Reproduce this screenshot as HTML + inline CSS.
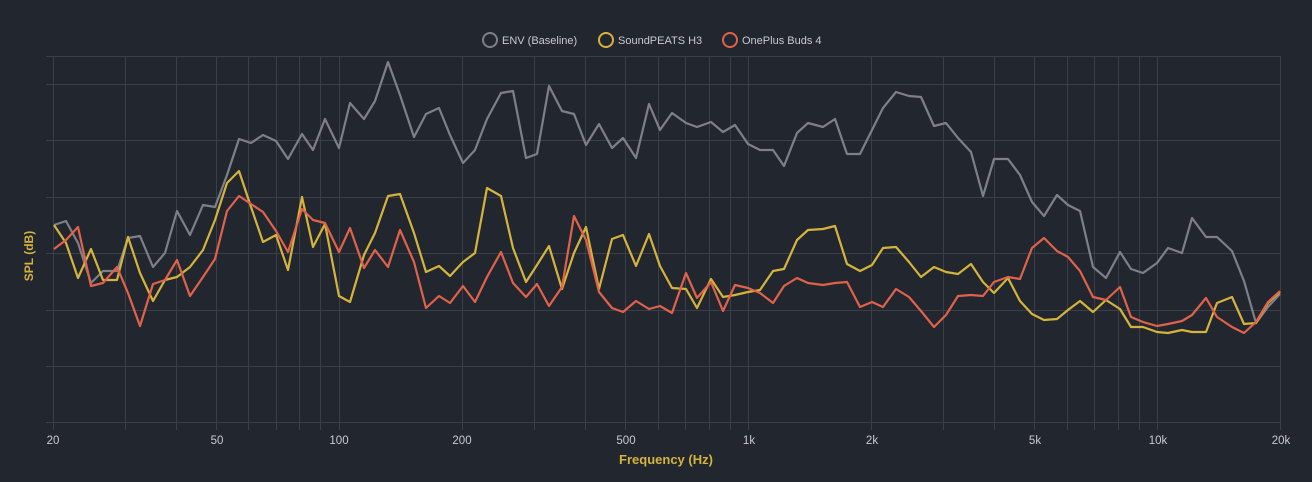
<!DOCTYPE html>
<html><head><meta charset="utf-8"><style>
html,body{margin:0;padding:0;background:#22262f;}
svg{display:block;font-family:"Liberation Sans",sans-serif;}
</style></head><body>
<svg width="1312" height="482" xmlns="http://www.w3.org/2000/svg">
<rect width="1312" height="482" fill="#22262f"/>
<g stroke="#3b3f49" stroke-width="1">
<line x1="46" y1="56.5" x2="1281" y2="56.5"/>
<line x1="46" y1="84.5" x2="1281" y2="84.5"/>
<line x1="46" y1="140.5" x2="1281" y2="140.5"/>
<line x1="46" y1="197.5" x2="1281" y2="197.5"/>
<line x1="46" y1="253.5" x2="1281" y2="253.5"/>
<line x1="46" y1="310.5" x2="1281" y2="310.5"/>
<line x1="46" y1="366.5" x2="1281" y2="366.5"/>
<line x1="46" y1="422.5" x2="1281" y2="422.5"/>
<line x1="53.5" y1="56" x2="53.5" y2="430"/><line x1="125.5" y1="56" x2="125.5" y2="430"/><line x1="176.5" y1="56" x2="176.5" y2="430"/><line x1="216.5" y1="56" x2="216.5" y2="430"/><line x1="248.5" y1="56" x2="248.5" y2="430"/><line x1="276.5" y1="56" x2="276.5" y2="430"/><line x1="299.5" y1="56" x2="299.5" y2="430"/><line x1="320.5" y1="56" x2="320.5" y2="430"/>
<line x1="339.5" y1="56" x2="339.5" y2="430"/><line x1="462.5" y1="56" x2="462.5" y2="430"/><line x1="534.5" y1="56" x2="534.5" y2="430"/><line x1="585.5" y1="56" x2="585.5" y2="430"/><line x1="625.5" y1="56" x2="625.5" y2="430"/><line x1="658.5" y1="56" x2="658.5" y2="430"/><line x1="685.5" y1="56" x2="685.5" y2="430"/><line x1="709.5" y1="56" x2="709.5" y2="430"/><line x1="730.5" y1="56" x2="730.5" y2="430"/>
<line x1="748.5" y1="56" x2="748.5" y2="430"/><line x1="871.5" y1="56" x2="871.5" y2="430"/><line x1="943.5" y1="56" x2="943.5" y2="430"/><line x1="994.5" y1="56" x2="994.5" y2="430"/><line x1="1034.5" y1="56" x2="1034.5" y2="430"/><line x1="1067.5" y1="56" x2="1067.5" y2="430"/><line x1="1094.5" y1="56" x2="1094.5" y2="430"/><line x1="1118.5" y1="56" x2="1118.5" y2="430"/><line x1="1139.5" y1="56" x2="1139.5" y2="430"/>
<line x1="1157.5" y1="56" x2="1157.5" y2="430"/><line x1="1280.5" y1="56" x2="1280.5" y2="430"/>
</g>
<g fill="#c8cad0" font-size="11.5" text-anchor="middle">
<text x="53" y="444">20</text><text x="217" y="444">50</text><text x="339" y="444">100</text>
<text x="462" y="444">200</text><text x="626" y="444">500</text><text x="749" y="444">1k</text>
<text x="872" y="444">2k</text><text x="1035" y="444">5k</text><text x="1158" y="444">10k</text>
<text x="1281" y="444">20k</text>
</g>
<text x="666" y="464" fill="#d4b43c" font-size="13" font-weight="bold" text-anchor="middle">Frequency (Hz)</text>
<text transform="translate(33,256) rotate(-90)" fill="#d4b43c" font-size="12" font-weight="bold" text-anchor="middle">SPL (dB)</text>
<g font-size="11" fill="#c8cad0">
<circle cx="490" cy="40" r="7" fill="none" stroke="#7d8089" stroke-width="2"/><text x="502" y="44">ENV (Baseline)</text>
<circle cx="606" cy="40" r="7" fill="none" stroke="#d4b43c" stroke-width="2"/><text x="618" y="44">SoundPEATS H3</text>
<circle cx="730" cy="40" r="7" fill="none" stroke="#e0624a" stroke-width="2"/><text x="742" y="44">OnePlus Buds 4</text>
</g>
<g fill="none" stroke-width="2.2" stroke-linejoin="round">
<polyline stroke="#7d8089" points="54,225 66,221 78,243 91,283 103,271 117,271 128,238 140,236 153,267 165,253 177,211 190,235 203,205 215,207 227,175 239,139 251,143 263,135 276,141 288,159 302,134 313,150 325,119 339,148 350,103 364,119 375,101 388,62 400,95 414,137 426,114 439,108 450,135 463,163 475,150 487,119 501,93 513,91 526,158 537,154 549,86 562,111 574,114 586,145 599,124 612,148 623,138 636,158 649,104 660,130 672,113 686,123 697,127 711,122 723,132 735,125 748,144 760,150 773,150 784,166 797,133 808,123 823,127 835,119 847,154 860,154 872,130 883,108 896,92 909,96 921,97 934,126 946,123 958,138 971,152 983,196 994,159 1008,159 1020,175 1032,202 1044,216 1057,195 1068,205 1080,211 1093,267 1106,278 1120,252 1131,269 1143,273 1157,263 1168,248 1182,253 1192,218 1206,237 1217,237 1232,251 1244,281 1256,323 1268,307 1280,294"/>
<polyline stroke="#d4b43c" points="54,225 66,243 78,278 91,249 103,280 117,280 128,237 140,273 153,301 165,280 177,277 190,267 203,250 215,220 227,183 239,171 251,207 263,242 276,235 288,270 302,197 313,247 325,224 339,296 350,302 364,255 375,233 388,196 400,194 414,233 426,272 439,266 450,276 463,262 475,253 487,188 501,196 513,248 526,282 537,265 549,246 562,289 574,253 586,227 599,289 612,239 623,235 636,266 649,234 660,266 672,288 686,289 697,308 711,279 723,297 735,295 748,292 760,290 773,271 784,269 797,240 808,230 823,229 835,226 847,264 860,271 872,265 883,248 896,247 909,262 921,277 934,267 946,272 958,274 971,264 983,282 994,293 1008,278 1020,301 1032,314 1044,320 1057,319 1068,310 1080,301 1093,312 1106,300 1120,309 1131,327 1143,327 1157,332 1168,333 1182,330 1192,332 1206,332 1217,303 1232,297 1244,324 1256,323 1268,303 1280,292"/>
<polyline stroke="#e0624a" points="54,249 66,240 78,227 91,286 103,283 117,267 128,293 140,326 153,284 165,280 177,260 190,296 203,277 215,259 227,211 239,196 251,204 263,212 276,231 288,252 302,209 313,220 325,223 339,252 350,228 364,268 375,250 388,267 400,230 414,262 426,308 439,296 450,303 463,286 475,302 487,277 501,252 513,283 526,297 537,284 549,306 562,287 574,216 586,240 599,292 612,308 623,312 636,301 649,309 660,306 672,313 686,273 697,298 711,282 723,311 735,285 748,288 760,293 773,303 784,286 797,278 808,283 823,285 835,283 847,282 860,307 872,302 883,307 896,289 909,297 921,311 934,327 946,315 958,296 971,295 983,296 994,282 1008,277 1020,279 1032,248 1044,238 1057,251 1068,257 1080,271 1093,297 1106,300 1120,287 1131,317 1143,322 1157,326 1168,324 1182,321 1192,315 1206,298 1217,317 1232,327 1244,333 1256,322 1268,302 1280,291"/>
</g>
</svg>
</body></html>
